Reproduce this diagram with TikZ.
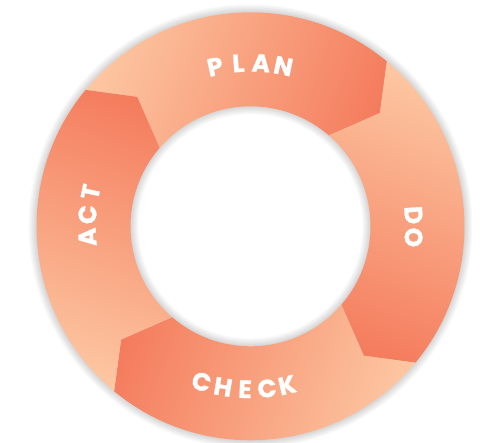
\documentclass[tikz,border=0pt]{standalone}
\usepackage{fontspec}
\newfontfamily\labelfont{Poppins}[BoldFeatures={FakeBold=1}]
\definecolor{segLight}{HTML}{FDC8A3}
\definecolor{segDark}{HTML}{F47B5C}
% light-to-dark band used inside every arrow segment
\pgfdeclarehorizontalshading{segfill}{460bp}{color(0bp)=(segLight); color(50bp)=(segLight); color(335bp)=(segDark); color(400bp)=(segDark)}

\begin{document}
\begin{tikzpicture}[x=1pt,y=1pt,
  lbl/.style={font=\labelfont\bfseries\fontsize{25}{25}\selectfont, text=white, inner sep=0pt},
  ringshadow/.style={fill=black, fill opacity=0.018, even odd rule}]
\def\Ro{214}\def\Ri{120}\def\Rm{172}
\useasboundingbox[fill=white] (-250.5,-216.7) rectangle (233.5,226.3);
% soft shadow around the ring and inside the hole
\foreach \k in {1,...,8}
  \fill[ringshadow] (0,0) circle[radius=\Ro+\k] (0,0) circle[radius=\Ri-\k];
% four arrow-shaped segments, each shaded light to dark clockwise
\foreach \k in {0,1,2,3}{
  \pgfmathsetmacro\a{140.4-90*\k}
  \pgfmathsetmacro\b{50.4-90*\k}
  \pgfmathsetmacro\g{-20-90*\k}
  \begin{scope}
    \clip (\a:\Ro) arc[start angle=\a, end angle=\b, radius=\Ro]
      -- (\b-9.2:\Rm) -- (\b-1.2:\Ri)
      arc[start angle=\b-1.2, end angle=\a-1.2, radius=\Ri]
      -- (\a-9.2:\Rm) -- cycle;
    \node[rotate=\g, inner sep=0pt] (shade\k) at (\g:-52) {\pgfuseshading{segfill}};
  \end{scope}
}
% labels, one letter at a time along the ring
\foreach \c/\a [count=\i] in {P/102.5,L/94.3,A/86.3,N/78.4}
  \node[lbl, rotate=\a-90] (plan\i) at (\a:163.5) {\c};
\foreach \c/\a [count=\i] in {D/3.9,O/-3.9}
  \node[lbl, rotate=\a-90] (do\i) at (\a:163.5) {\c};
\foreach \c/\a [count=\i] in {C/252.5,H/260.3,E/268.1,C/275.8,K/283.0}
  \node[lbl, rotate=\a+90] (check\i) at (\a:163) {\c};
\foreach \c/\a [count=\i] in {A/183.8,C/175.9,T/167.9}
  \node[lbl, rotate=\a-90] (act\i) at (\a:163.5) {\c};
\end{tikzpicture}
\end{document}
